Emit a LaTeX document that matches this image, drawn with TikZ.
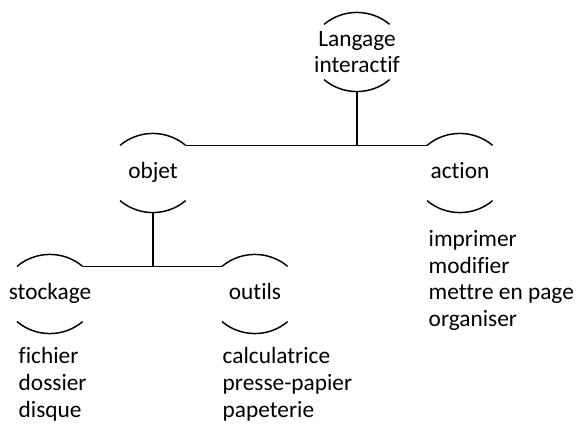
\documentclass[tikz,border=0pt]{standalone}
\usepackage{fontspec}
\setmainfont{Carlito}[Ligatures={NoCommon}]
\usetikzlibrary{calc}

\begin{document}
\begin{tikzpicture}[x=0.75pt, y=-0.75pt, line width=1.1pt,
  txt/.style={font=\fontsize{17.5}{19.9}\selectfont, inner sep=0pt, align=center},
  concept/.style={txt, text height=12pt, text depth=3.5pt},
  liste/.style={txt, align=left, anchor=north west}]
  \useasboundingbox (0,0) rectangle (583,428);

  % Concepts
  \node[txt] (lang) at (357,52) {Langage\\interactif};
  \node[concept] (objet) at (153,173) {objet};
  \node[concept] (action) at (460,173) {action};
  \node[concept] (stockage) at (50,294) {stockage};
  \node[concept] (outils) at (255,294) {outils};

  % Arcs above and below each concept
  \foreach \n in {lang, objet, action, stockage, outils} {
    \coordinate (\n-nw) at ([shift={(140:32.25pt)}]\n.center);
    \coordinate (\n-ne) at ([shift={(40:32.25pt)}]\n.center);
    \coordinate (\n-sw) at ([shift={(220:32.25pt)}]\n.center);
    \coordinate (\n-s) at ([yshift=-29.7pt]\n.center);
    \draw (\n-nw) arc[start angle=130, end angle=50, radius=38.25pt];
    \draw (\n-sw) arc[start angle=230, end angle=310, radius=38.25pt];
  }

  % Tree lines
  \draw (lang-s) -- (lang-s |- objet-ne);
  \draw (objet-ne) -- (action-nw);
  \draw (objet-s) -- (objet-s |- stockage-ne);
  \draw (stockage-ne) -- (outils-nw);

  % Lists
  \node[liste] (actions) at (428,230) {imprimer\\modifier\\mettre en page\\organiser};
  \node[liste] (fichiers) at (18,347) {fichier\\dossier\\disque};
  \node[liste] (outillage) at (222,347) {calculatrice\\presse-papier\\papeterie};
\end{tikzpicture}
\end{document}
